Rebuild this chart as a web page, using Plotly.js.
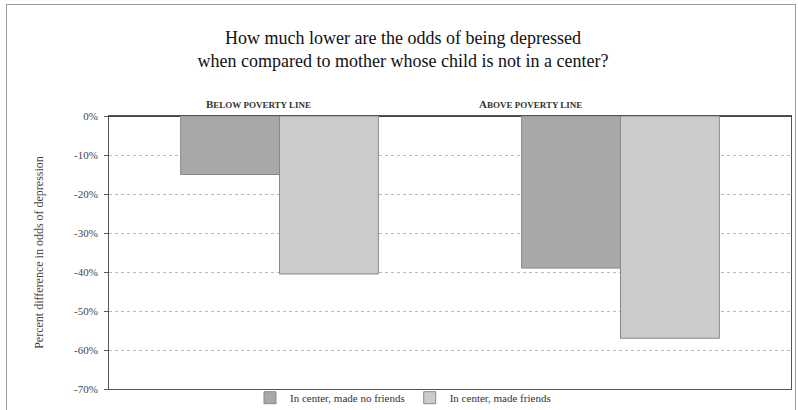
<!DOCTYPE html>
<html><head><meta charset="utf-8">
<script src="https://cdn.plot.ly/plotly-3.0.1.min.js"></script>
<style>
html,body{margin:0;padding:0;background:#fff;}
#frame{position:absolute;left:6px;top:4px;width:790px;height:420px;border:1px solid #9a9a9a;box-sizing:border-box;pointer-events:none;}
#chart{position:absolute;left:0;top:0;width:798px;height:410px;}
</style></head>
<body>
<div id="chart"></div>
<div id="frame"></div>
<script>
const categories = ["Below poverty line", "Above poverty line"];
const categoryLabels = ["B<span style='font-size:9px'>ELOW POVERTY LINE</span>", "A<span style='font-size:9px'>BOVE POVERTY LINE</span>"];
const seriesNames = ["In center, made no friends", "In center, made friends"];
const noFriends = [-0.15, -0.39];
const madeFriends = [-0.405, -0.57];
const yTicks = [0, -0.1, -0.2, -0.3, -0.4, -0.5, -0.6, -0.7];
const yTickLabels = ["0%", "-10%", "-20%", "-30%", "-40%", "-50%", "-60%", "-70%"];

const serif = "Liberation Serif, DejaVu Serif, serif";

const traces = [
  {type:'bar', name:seriesNames[0], x:categories, y:noFriends,
   marker:{color:'#a8a8a8', line:{color:'#8a8a8a', width:1}}},
  {type:'bar', name:seriesNames[1], x:categories, y:madeFriends,
   marker:{color:'#cbcbcb', line:{color:'#8a8a8a', width:1}}}
];

const annotations = categories.map((c,i)=>({
  x:c, xref:'x', y:1, yref:'paper', yanchor:'bottom', yshift:4,
  xshift: i===0 ? -21 : -90,
  text:'<b>'+categoryLabels[i]+'</b>', showarrow:false,
  font:{family:serif, size:11, color:'#333'}
}));

const layout = {
  width:798, height:410,
  margin:{l:109, r:7, t:116, b:21, autoexpand:false},
  paper_bgcolor:'rgba(0,0,0,0)', plot_bgcolor:'#fff',
  title:{text:'How much lower are the odds of being depressed<br>when compared to mother whose child is not in a center?',
    font:{family:serif, size:18, color:'#111'}, x:0.505, xref:'container', y:0.893, yanchor:'top', yref:'container'},
  barmode:'group', bargap:0.42, bargroupgap:0,
  xaxis:{showticklabels:false, ticks:'', showgrid:false, showline:true, mirror:true, linecolor:'#555', linewidth:1},
  yaxis:{range:[-0.7, 0], tickvals:yTicks, ticktext:yTickLabels, ticks:'outside', ticklen:4, tickcolor:'#555',
    ticklabelstandoff:4, automargin:false,
    showgrid:true, gridcolor:'#b8b8b8', griddash:'dot', gridwidth:1,
    showline:true, mirror:true, linecolor:'#555', linewidth:1, zeroline:true, zerolinecolor:'#444', zerolinewidth:1.5,
    tickfont:{family:serif, size:11, color:'#444'},
    title:{text:'Percent difference in odds of depression', font:{family:serif, size:12, color:'#444'}, standoff:27}},
  showlegend:true,
  legend:{orientation:'h', x:0.505, xref:'container', xanchor:'center', y:0.03, yref:'container', yanchor:'middle',
    font:{family:serif, size:11, color:'#333'}, itemwidth:30, bgcolor:'rgba(0,0,0,0)'},
  annotations:annotations
};

Plotly.newPlot('chart', traces, layout, {displayModeBar:false, staticPlot:true});
</script>
</body></html>
